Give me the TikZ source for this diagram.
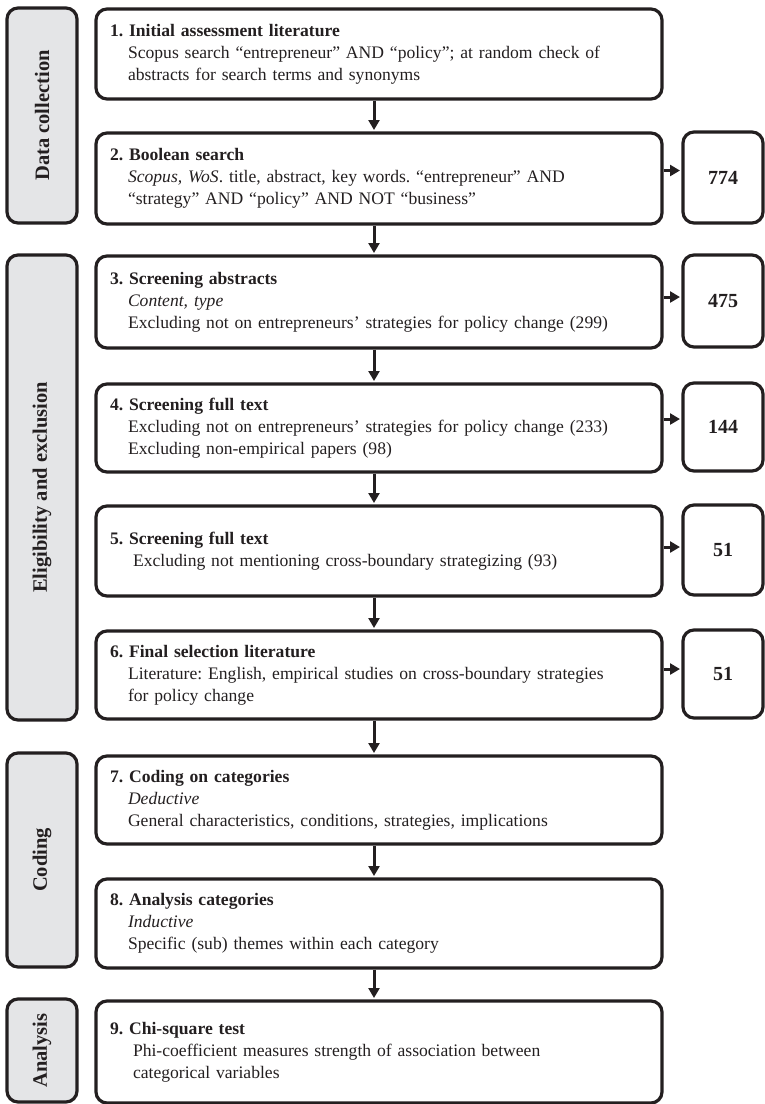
\documentclass[tikz,border=0pt]{standalone}
\usepackage{fontspec}
\setmainfont{Liberation Serif}
\usetikzlibrary{arrows.meta}
\definecolor{ink}{HTML}{231F20}
\definecolor{catgray}{HTML}{E4E5E7}
\frenchspacing
\begin{document}
\begin{tikzpicture}[x=1pt,y=-1pt,
  mainbox/.style={draw=ink, line width=3.2pt, rounded corners=11pt,
    minimum width=566pt, minimum height=#1, text width=538pt,
    inner xsep=14pt, inner ysep=0pt, align=left,
    font=\fontsize{17.6}{22}\selectfont\frenchspacing, text=ink},
  mainbox/.default=90pt,
  countbox/.style={draw=ink, line width=3.2pt, rounded corners=11pt,
    minimum width=80pt, minimum height=#1, inner sep=0pt, text=ink,
    font=\bfseries\fontsize{20}{24}\selectfont},
  catbox/.style={draw=ink, fill=catgray, line width=3.2pt, rounded corners=11pt,
    rotate=90, minimum width=#1, minimum height=70pt, inner sep=0pt, text=ink,
    font=\bfseries\fontsize{20.5}{24}\selectfont},
  arr/.style={draw=ink, line width=3pt, shorten >=1.4pt,
    -{Triangle[length=10pt,width=11pt]}}
]
\useasboundingbox (0,0) rectangle (765,1104);

% category boxes
\node[catbox=215pt] (c1) at (42,115.5) {Data collection};
\node[catbox=465pt] (c2) at (42,487.5) {Eligibility and exclusion};
\node[catbox=214pt] (c3) at (42,860) {Coding};
\node[catbox=103pt] (c4) at (42,1050.5) {Analysis};

% main boxes
\node[mainbox=90pt] (b1) at (379,54) {\textbf{1. Initial assessment literature}\\
\hspace*{18pt}Scopus search “entrepreneur” AND “policy”; at random check of\\
\hspace*{18pt}abstracts for search terms and synonyms};
\node[mainbox=91pt] (b2) at (379,178.5) {\textbf{2. Boolean search}\\
\hspace*{18pt}\textit{Scopus, WoS}. title, abstract, key words. “entrepreneur” AND\\
\hspace*{18pt}“strategy” AND “policy” AND NOT “business”};
\node[mainbox=92pt] (b3) at (379,302) {\textbf{3. Screening abstracts}\\
\hspace*{18pt}\textit{Content, type}\\
\hspace*{18pt}Excluding not on entrepreneurs’ strategies for policy change (299)};
\node[mainbox=88pt] (b4) at (379,428) {\textbf{4. Screening full text}\\
\hspace*{18pt}Excluding not on entrepreneurs’ strategies for policy change (233)\\
\hspace*{18pt}Excluding non-empirical papers (98)};
\node[mainbox=90pt] (b5) at (379,551) {\textbf{5. Screening full text}\\
\hspace*{23pt}Excluding not mentioning cross-boundary strategizing (93)};
\node[mainbox=88pt] (b6) at (379,675) {\textbf{6. Final selection literature}\\
\hspace*{18pt}Literature: English, empirical studies on cross-boundary strategies\\
\hspace*{18pt}for policy change};
\node[mainbox=88pt] (b7) at (379,800) {\textbf{7. Coding on categories}\\
\hspace*{18pt}\textit{Deductive}\\
\hspace*{18pt}General characteristics, conditions, strategies, implications};
\node[mainbox=89pt] (b8) at (379,923.5) {\textbf{8. Analysis categories}\\
\hspace*{18pt}\textit{Inductive}\\
\hspace*{18pt}Specific (sub) themes within each category};
\node[mainbox=102pt] (b9) at (379,1052) {\textbf{9. Chi-square test}\\
\hspace*{23pt}Phi-coefficient measures strength of association between\\
\hspace*{23pt}categorical variables};

% count boxes
\node[countbox=91pt] (n2) at (723,177.5) {774};
\node[countbox=92pt] (n3) at (723,301) {475};
\node[countbox=88pt] (n4) at (723,427) {144};
\node[countbox=90pt] (n5) at (723,550) {51};
\node[countbox=88pt] (n6) at (723,674) {51};

% vertical arrows
\draw[arr] ([xshift=-5pt]b1.south) -- ([xshift=-5pt]b2.north);
\draw[arr] ([xshift=-5pt]b2.south) -- ([xshift=-5pt]b3.north);
\draw[arr] ([xshift=-5pt]b3.south) -- ([xshift=-5pt]b4.north);
\draw[arr] ([xshift=-5pt]b4.south) -- ([xshift=-5pt]b5.north);
\draw[arr] ([xshift=-5pt]b5.south) -- ([xshift=-5pt]b6.north);
\draw[arr] ([xshift=-5pt]b6.south) -- ([xshift=-5pt]b7.north);
\draw[arr] ([xshift=-5pt]b7.south) -- ([xshift=-5pt]b8.north);
\draw[arr] ([xshift=-5pt]b8.south) -- ([xshift=-5pt]b9.north);

% horizontal arrows
\draw[arr] ([yshift=8pt]b2.east) -- ([yshift=8pt]n2.west |- b2.east);
\draw[arr] ([yshift=5pt]b3.east) -- ([yshift=5pt]n3.west |- b3.east);
\draw[arr] ([yshift=9pt]b4.east) -- ([yshift=9pt]n4.west |- b4.east);
\draw[arr] ([yshift=4pt]b5.east) -- ([yshift=4pt]n5.west |- b5.east);
\draw[arr] ([yshift=6pt]b6.east) -- ([yshift=6pt]n6.west |- b6.east);
\end{tikzpicture}
\end{document}
